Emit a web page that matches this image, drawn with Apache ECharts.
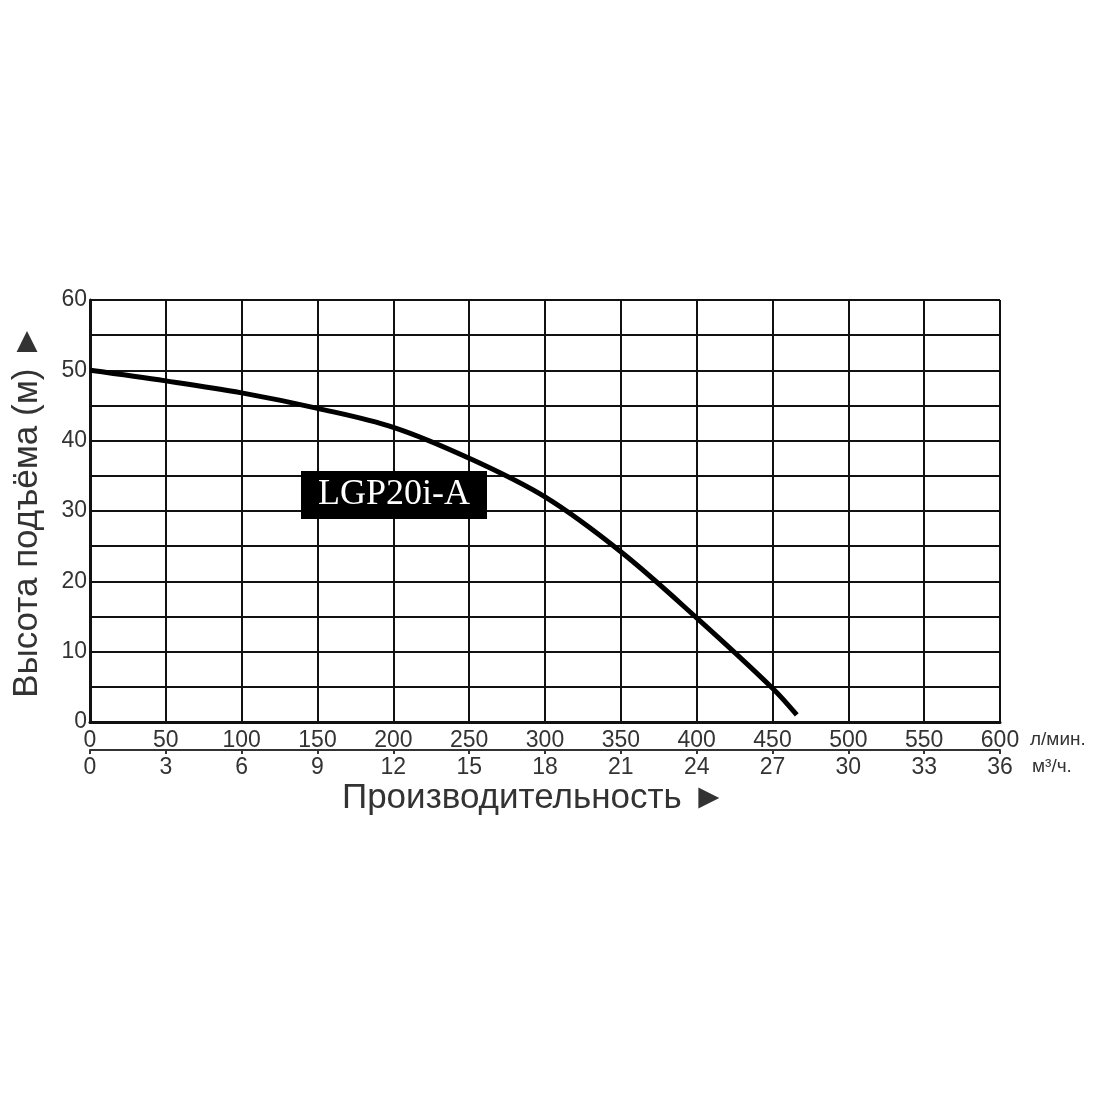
<!DOCTYPE html>
<html>
<head>
<meta charset="utf-8">
<script src="https://cdn.jsdelivr.net/npm/echarts@6/dist/echarts.min.js"></script>
<style>
  html, body { margin: 0; padding: 0; background: #fff; }
  #chart { width: 1100px; height: 1100px; }
</style>
</head>
<body>
<div id="chart"></div>
<script>
// flow in l/min and head in m
const flowLpm = [0, 50, 100, 150, 200, 250, 300, 350, 400, 450, 466];
const headM = [50, 48.5, 46.8, 44.6, 41.9, 37.5, 32.0, 24.2, 14.8, 4.8, 1.0];
const modelName = 'LGP20i-A';

const FONT = '"Liberation Sans", Arial, sans-serif';

const chart = echarts.init(document.getElementById('chart'));

const option = {
    backgroundColor: '#fff',
    animation: false,
    grid: { left: 90, right: 100, top: 300, bottom: 378, outerBoundsMode: 'none', containLabel: false },
    xAxis: [
        {
            type: 'value',
            min: 0, max: 600, interval: 50,
            position: 'bottom',
            name: 'л/мин.',
            nameLocation: 'end',
            nameGap: 30,
            nameTextStyle: { color: '#333', fontSize: 19, fontFamily: FONT, verticalAlign: 'top', padding: [8, 0, 0, 0] },
            axisLine: { show: true, lineStyle: { color: '#111', width: 3 } },
            axisTick: { show: false },
            axisLabel: { color: '#333', fontSize: 23, fontFamily: FONT, margin: 7 },
            splitLine: { show: true, lineStyle: { color: '#111', width: 2 } }
        },
        {
            type: 'value',
            min: 0, max: 36, interval: 3,
            position: 'bottom',
            offset: 28,
            name: 'м³/ч.',
            nameLocation: 'end',
            nameGap: 32,
            nameTextStyle: { color: '#333', fontSize: 19, fontFamily: FONT, verticalAlign: 'top', padding: [7, 0, 0, 0] },
            axisLine: { show: true, lineStyle: { color: '#333', width: 2 } },
            axisTick: { show: true, length: 4, inside: false, lineStyle: { color: '#333', width: 2 } },
            axisLabel: { color: '#333', fontSize: 23, fontFamily: FONT, margin: 6 },
            splitLine: { show: false }
        }
    ],
    yAxis: {
        type: 'value',
        min: 0, max: 60, interval: 5,
        name: 'Высота подъёма (м) ►',
        nameLocation: 'middle',
        nameGap: 45,
        nameRotate: 90,
        nameTextStyle: { color: '#333', fontSize: 35, fontFamily: FONT },
        axisLine: { show: true, lineStyle: { color: '#111', width: 3 } },
        axisTick: { show: false },
        axisLabel: {
            color: '#333', fontSize: 23, fontFamily: FONT, margin: 3,
            formatter: v => (v % 10 === 0 ? String(v) : '')
        },
        splitLine: { show: true, lineStyle: { color: '#111', width: 2 } }
    },
    series: [
        {
            type: 'line',
            xAxisIndex: 0,
            data: flowLpm.map((f, i) => [f, headM[i]]),
            smooth: 0.35,
            showSymbol: false,
            lineStyle: { color: '#000', width: 5 },
            z: 5
        }
    ],
    graphic: [
        {
            type: 'text',
            left: 301, top: 471,
            z: 10,
            style: {
                text: modelName,
                fill: '#fff',
                backgroundColor: '#000',
                padding: [6, 17, 6, 17],
                font: '36px "Liberation Serif", "Times New Roman", serif'
            }
        },
        {
            type: 'text',
            left: 342,
            top: 781,
            style: {
                text: 'Производительность ►',
                fill: '#333',
                font: '35px "Liberation Sans", Arial, sans-serif'
            }
        }
    ]
};

chart.setOption(option);
</script>
</body>
</html>
